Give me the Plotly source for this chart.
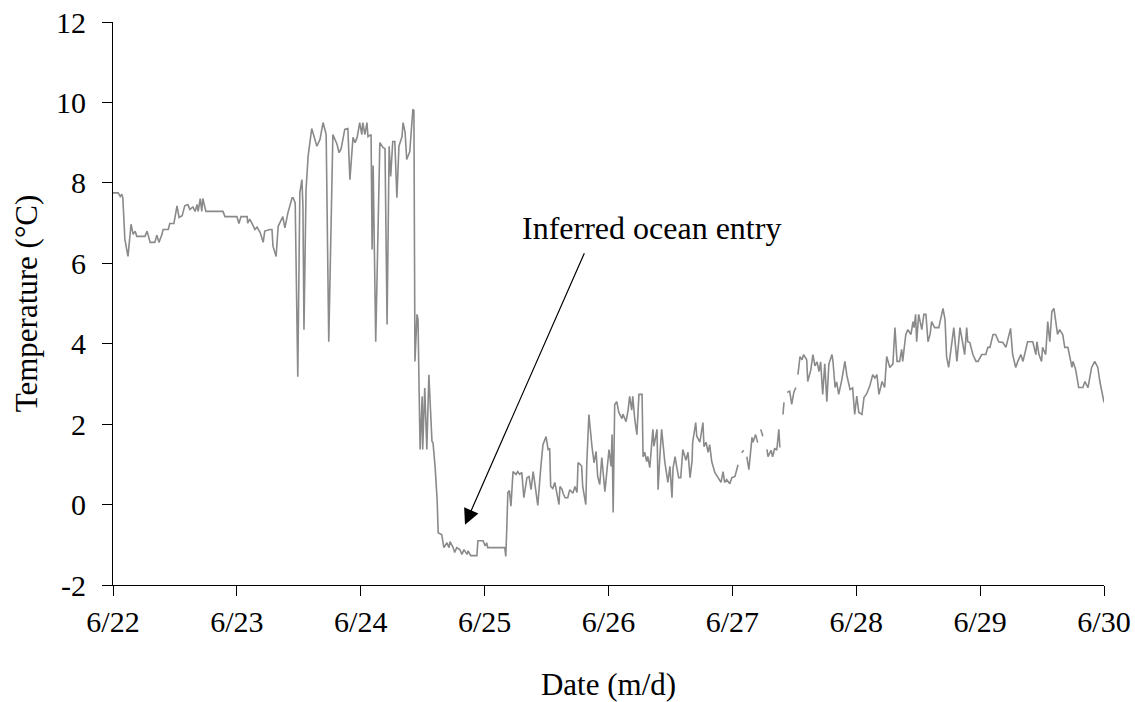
import pandas as pd
import plotly.graph_objects as go

# Elapsed hours since 6/22 00:00 and temperature (°C); None marks logger gaps
hours = [
    0.0, 1.0, 1.4, 1.7, 1.9, 2.3, 2.9, 3.5, 3.9, 4.3, 4.6, 6.2, 6.6, 7.2, 8.1, 8.5, 8.9, 9.5, 9.7, 10.7,
    11.0, 11.8, 12.4, 12.8, 13.4, 13.9, 14.5, 14.9, 15.5, 15.9, 16.3, 16.5, 16.9, 17.2, 17.4, 18.0, 21.3, 21.7,
    24.0, 24.4, 24.8, 26.0, 26.1, 26.5, 27.1, 27.5, 27.9, 28.5, 29.1, 29.4, 30.4, 30.8, 31.0, 31.6, 32.0, 32.3,
    32.9, 33.3, 33.9, 34.7, 34.9, 35.3, 35.8, 36.2, 36.6, 36.8, 37.0, 37.4, 37.8, 38.5, 39.5, 40.1, 40.7, 41.3,
    41.8, 42.6, 43.4, 43.8, 44.2, 44.9, 45.5, 45.9, 46.5, 46.9, 47.3, 47.8, 48.2, 48.4, 48.8, 49.2, 49.4, 50.0,
    50.2, 50.4, 50.9, 51.7, 52.3, 52.7, 53.1, 53.5, 53.8, 54.2, 54.6, 55.0, 55.4, 56.0, 56.2, 56.6, 56.9, 57.5,
    58.1, 58.3, 58.5, 58.9, 59.1, 59.3, 59.5, 59.9, 60.0, 60.4, 60.8, 61.2, 61.8, 62.0, 62.4, 62.8, 63.0, 63.7,
    64.1, 64.7, 65.1, 65.3, 65.9, 66.2, 66.6, 67.2, 67.6, 68.0, 68.6, 68.8, 69.3, 70.5, 70.7, 71.7, 72.1, 72.4,
    72.6, 75.9, 76.1, 76.3, 76.5, 76.8, 77.1, 77.5, 78.1, 78.4, 78.8, 79.2, 79.6, 80.2, 80.6, 81.0, 81.4, 81.7,
    82.3, 82.9, 83.3, 83.9, 84.3, 84.6, 84.8, 85.2, 85.6, 86.0, 86.4, 86.6, 87.0, 87.2, 87.6, 88.1, 88.5, 89.1,
    89.5, 89.9, 90.1, 90.5, 90.8, 91.0, 91.6, 91.8, 92.2, 92.8, 93.2, 93.6, 93.9, 94.3, 94.7, 95.3, 95.7, 96.1,
    96.5, 96.7, 96.9, 97.2, 97.6, 98.0, 98.6, 98.8, 99.4, 99.8, 100.1, 100.5, 100.7, 101.1, 101.5, 101.9, 102.5,
    102.7, 103.0, 103.4, 103.6, 104.0, 104.6, 104.8, 105.4, 105.6, 106.0, 106.3, 106.9, 107.3, 107.5, 107.9,
    108.3, 108.5, 108.9, 109.2, 109.6, 110.0, 110.4, 111.0, 111.4, 111.8, 112.2, 112.3, 112.9, 113.1, 113.7,
    114.3, 114.5, 114.9, 115.3, 115.6, 116.0, 116.6, 117.2, 117.8, 118.2, 118.5, 118.9, 119.5, 119.9, 120.5,
    121.1, 121.5, 121.8, 122.2, 122.5, 122.8, 123.2, 123.8, 124.0, 124.5, 124.9, 125.2, 125.5, 125.9, 126.3,
    126.7, 126.9, 127.5, 127.8, 128.2, 128.6, 129.0, 129.2, 129.5, 129.8, 130.0, 130.3, 130.6, 131.1, 131.5,
    131.9, 132.3, 132.5, 132.7, 133.1, 133.5, 133.8, 134.4, 134.6, 135.2, 135.6, 136.0, 136.4, 136.8, 137.1,
    137.5, 137.9, 138.3, 138.7, 139.3, 139.5, 139.9, 140.2, 140.6, 141.2, 141.8, 142.2, 142.8, 143.3, 143.7,
    144.1, 144.5, 145.1, 145.5, 146.0, 146.6, 147.2, 147.6, 148.0, 148.4, 149.0, 149.5, 149.9, 150.5, 151.1,
    151.5, 151.9, 152.4, 152.8, 153.0, 153.6, 154.0, 154.6, 155.0, 155.2, 155.5, 155.7, 156.1, 156.7, 157.1,
    157.5, 157.9, 158.3, 158.6, 159.2, 160.0, 160.6, 160.8, 161.2, 161.5, 161.9, 162.5, 162.9, 163.5, 164.1,
    164.6, 165.0, 165.4, 165.6, 166.0, 166.6, 167.2, 167.6, 168.3, 169.1, 169.5, 169.9, 170.5, 171.0, 171.6,
    172.4, 173.0, 173.4, 173.9, 174.3, 174.9, 175.3, 175.9, 176.3, 176.8, 177.2, 178.2, 178.8, 179.0, 179.4,
    179.9, 180.1, 180.7, 181.1, 181.5, 181.9, 182.3, 182.7, 183.0, 183.4, 184.0, 184.4, 185.0, 185.8, 186.0,
    186.5, 187.1, 187.9, 188.3, 188.9, 189.6, 190.2, 190.8, 191.2, 192.0,
]
temps = [
    7.75, 7.75, 7.66, 7.72, 7.63, 6.60, 6.17, 6.97, 6.72, 6.80, 6.67, 6.67, 6.80, 6.52, 6.52, 6.70, 6.52, 6.72, 6.84, 6.84,
    6.99, 6.99, 7.43, 7.14, 7.18, 7.43, 7.46, 7.34, 7.40, 7.29, 7.46, 7.29, 7.61, 7.29, 7.61, 7.29, 7.29, 7.16,
    7.16, 6.99, 7.16, 7.16, 7.00, 7.10, 6.95, 6.84, 6.90, 6.77, 6.52, 6.80, 6.84, 6.84, 6.42, 6.17, 6.92, 7.00,
    7.16, 6.88, 7.26, 7.63, 7.63, 7.50, 3.18, 7.76, 8.08, 7.41, 4.35, 7.83, 8.66, 9.35, 8.91, 9.08, 9.50, 9.20,
    4.05, 9.20, 8.96, 8.75, 8.85, 9.33, 9.35, 8.08, 9.13, 9.00, 9.13, 9.50, 9.20, 9.50, 9.20, 9.50, 9.15, 9.20,
    6.34, 8.43, 4.05, 9.00, 8.88, 8.85, 4.48, 8.91, 8.16, 9.03, 9.03, 7.63, 8.91, 9.15, 9.50, 9.25, 8.58, 8.78,
    9.83, 9.80, 3.56, 4.73, 4.60, 2.90, 1.37, 2.69, 1.37, 2.90, 1.37, 3.23, 1.57, 1.54, 0.95, 0.12, -0.70, -0.75,
    -1.07, -0.95, -1.07, -0.92, -1.07, -1.19, -1.07, -1.12, -1.24, -1.12, -1.24, -1.15, -1.27, -1.27, -0.90, -0.90, -1.03, -0.95,
    -1.07, -1.07, -1.29, -0.57, 0.30, 0.35, -0.04, 0.82, 0.75, 0.82, 0.75, 0.80, 0.17, 0.67, 0.70, 0.37, 0.82, 0.55,
    -0.02, 0.95, 1.49, 1.69, 1.37, 1.40, 0.45, 0.40, 0.55, 0.28, 0.00, 0.45, 0.38, 0.28, 0.17, 0.17, 0.37, 0.28,
    0.45, 0.30, 1.04, 1.00, 0.95, 0.45, 0.00, 1.04, 2.24, 1.44, 1.04, 1.32, 0.70, 0.50, 1.17, 0.32, 0.95, 1.37,
    0.95, 1.74, -0.20, 2.49, 2.56, 2.29, 2.14, 2.25, 2.06, 2.35, 2.69, 2.35, 2.69, 2.11, 1.74, 2.74, 2.74,
    1.19, 1.30, 1.07, 1.20, 0.92, 1.87, 1.45, 1.87, 0.37, 1.30, 1.87, 1.07, 0.65, 0.55, 0.95,
    0.17, 0.90, 1.19, 0.95, 0.67, 0.67, 1.37, 1.10, 1.30, 0.67, 1.10, 1.54, 2.04, 1.70, 1.55,
    2.04, 1.44, 1.55, 1.30, 1.49, 1.07, 0.80, 0.67, 0.55, 0.82, 0.55, 0.62, 0.52, 0.67, 0.70,
    0.99, None, 1.29, 1.35, None, 1.19, 0.87, 1.67, 1.55, 1.74, 1.54, None, 1.87, 1.70, None,
    1.37, 1.19, 1.35, 1.19, 1.40, 1.35, 1.87, 1.42, None, 2.24, 2.54, None, 2.79, 2.82, 2.49,
    2.79, 2.91, None, 3.23, 3.68, 3.60, 3.73, 3.60, 3.06, 3.35, 3.73, 3.45, 3.55, 3.31, 3.55,
    2.74, 3.50, 2.56, 3.50, 3.73, 3.55, 2.91, 3.05, 2.74, 3.10, 3.56, 3.20, 2.86, 2.90, 2.24,
    2.70, 2.29, 2.24, 2.66, 2.75, 2.94, 3.23, 3.15, 3.23, 2.74, 3.06, 2.91, 3.68, 3.41, 3.50,
    4.40, 3.56, 3.56, 3.86, 3.56, 4.23, 4.35, 4.23, 4.55, 4.40, 4.73, 4.05, 4.73, 4.35, 4.73,
    4.73, 4.05, 4.23, 4.55, 4.40, 4.40, 4.78, 4.88, 4.60, 3.68, 3.41, 4.03, 4.40, 3.56, 4.40,
    4.03, 3.73, 4.40, 4.05, 4.03, 3.73, 3.56, 3.56, 3.73, 3.73, 3.91, 3.91, 4.23, 4.23, 4.05,
    4.03, 3.91, 4.10, 4.38, 3.73, 3.41, 3.56, 3.73, 3.56, 3.86, 4.05, 4.05, 3.73, 4.05, 3.73,
    3.56, 3.91, 3.73, 4.55, 4.05, 4.80, 4.88, 4.55, 4.23, 4.35, 4.23, 3.91, 3.91, 3.41, 3.56,
    3.36, 2.91, 2.91, 3.06, 2.91, 3.41, 3.56, 3.41, 3.06, 2.54,
]

y_ticks = [-2, 0, 2, 4, 6, 8, 10, 12]
y_tick_labels = ["-2", "0", "2", "4", "6", "8", "10", "12"]

start = pd.Timestamp("2015-06-22")
end = pd.Timestamp("2015-06-30")
times = [start + pd.Timedelta(hours=h) for h in hours]

# annotation anchor points (elapsed hours, °C)
arrow_head_h, arrow_head_t = 68.2, -0.50
label_h, label_t = 104.4, 6.89
label_text = "Inferred ocean entry"

FONT = "Liberation Serif, Times New Roman, serif"

fig = go.Figure()
fig.add_trace(go.Scatter(
    x=times, y=temps, mode="lines",
    line=dict(color="#8a8a8a", width=1.6),
    connectgaps=False, hoverinfo="skip", showlegend=False,
))

fig.add_annotation(
    x=start + pd.Timedelta(hours=label_h), y=label_t, text=label_text,
    showarrow=False, xanchor="center", yanchor="middle",
    font=dict(family=FONT, size=32, color="black"),
)
fig.add_annotation(
    x=start + pd.Timedelta(hours=arrow_head_h), y=arrow_head_t, text="",
    showarrow=True, ax=120, ay=-273, arrowhead=2, arrowsize=2.6,
    arrowwidth=1.2, arrowcolor="black",
)

fig.update_layout(
    width=1135, height=702,
    margin=dict(l=113, r=31, t=22, b=117),
    paper_bgcolor="white", plot_bgcolor="white",
    font=dict(family=FONT, size=30, color="black"),
    xaxis=dict(
        type="date", range=[start, end], tick0=start, dtick=86400000,
        tickformat="%-m/%-d", ticks="outside", ticklen=10, tickwidth=1,
        tickcolor="black", showline=True, linecolor="black", linewidth=1,
        showgrid=False, zeroline=False, automargin=False,
        ticklabelstandoff=0,
        title=dict(text="Date (m/d)", standoff=37, font=dict(size=31)),
        tickfont=dict(size=30),
    ),
    yaxis=dict(
        range=[-2, 12], tickvals=y_ticks, ticktext=y_tick_labels,
        ticks="outside", ticklen=10, tickwidth=1, tickcolor="black",
        showline=True, linecolor="black", linewidth=1,
        showgrid=False, zeroline=False, automargin=False,
        ticklabelstandoff=10,
        title=dict(text="Temperature (°C)", standoff=9, font=dict(size=31)),
        tickfont=dict(size=30),
    ),
)

fig.write_html("out.html")
